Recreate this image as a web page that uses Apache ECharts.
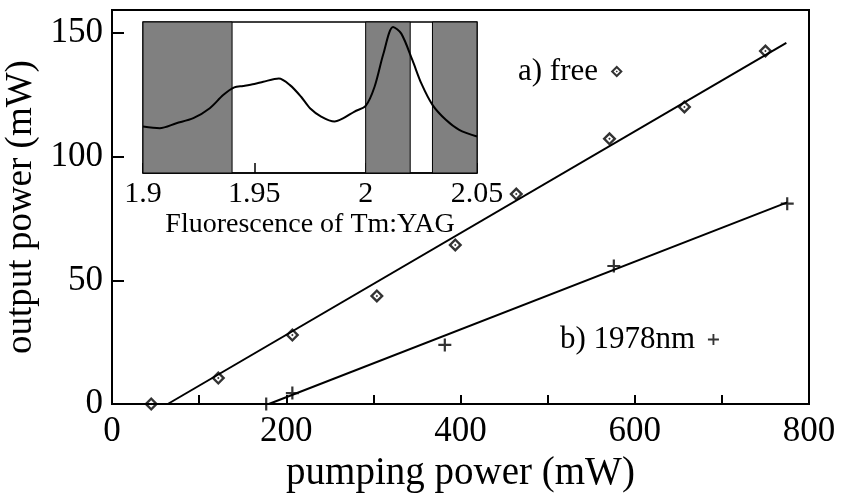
<!DOCTYPE html>
<html>
<head>
<meta charset="utf-8">
<script src="https://cdn.jsdelivr.net/npm/echarts@6/dist/echarts.min.js"></script>
<style>
  html, body { margin: 0; background: #fff; }
  #chart { width: 842px; height: 501px; }
</style>
</head>
<body>
<div id="chart"></div>
<script>
// main plot: output power vs pumping power
var pumpFree = [45, 122, 207, 304, 394, 464, 571, 657, 750];
var outFree = [0, 10.5, 27.9, 43.7, 64.3, 84.9, 107.2, 120.1, 142.7];
var pump1978 = [177, 207, 382, 576, 775];
var out1978 = [0, 4.4, 23.9, 55.8, 81];
// linear fits (start, end)
var fitFree = [[64, 0], [774, 146]];
var fit1978 = [[180, 0], [775, 81.5]];
var xLabels = [0, 200, 400, 600, 800];
var yLabels = [0, 50, 100, 150];

// inset: fluorescence spectrum of Tm:YAG
var wavelength = [1.900, 1.9075, 1.915, 1.9226, 1.930, 1.936, 1.941, 1.945, 1.950, 1.954,
  1.961, 1.966, 1.971, 1.975, 1.980, 1.986, 1.990, 1.995, 2.000, 2.004,
  2.008, 2.0123, 2.016, 2.021, 2.025, 2.030, 2.036, 2.042, 2.050];
var fluor = [0.308, 0.297, 0.330, 0.363, 0.429, 0.516, 0.567, 0.576, 0.589, 0.604,
  0.626, 0.582, 0.505, 0.429, 0.374, 0.341, 0.363, 0.407, 0.444, 0.571,
  0.791, 0.967, 0.923, 0.747, 0.593, 0.451, 0.352, 0.286, 0.242];
var insetLabels = [1.9, 1.95, 2, 2.05];
var bands = [[1.9, 1.94], [2.0, 2.02], [2.03, 2.05]];

var font = 'Liberation Serif';
var diamondPath = 'path://M0,-5L5,0L0,5L-5,0Z M0,-2.6L-2.6,0L0,2.6L2.6,0Z M0,-0.9L0.9,0L0,0.9L-0.9,0Z';
var plusPath = 'path://M-5,-0.85L5,-0.85L5,0.85L-5,0.85Z M-0.85,-5L0.85,-5L0.85,5L-0.85,5Z';

function zip(a, b) {
  return a.map(function (v, i) { return [v, b[i]]; });
}

var chart = echarts.init(document.getElementById('chart'));
var option = {
  backgroundColor: '#fff',
  animation: false,
  legend: [{
    data: [{ name: 'a) free', icon: diamondPath }],
    left: 513, top: 51, align: 'right',
    itemWidth: 12, itemHeight: 12,
    formatter: function (n) { return n + ' '; },
    textStyle: { fontFamily: font, fontSize: 31, color: '#000' }
  }, {
    data: [{ name: 'b) 1978nm', icon: plusPath }],
    left: 555, top: 319, align: 'right',
    itemWidth: 11, itemHeight: 11,
    formatter: function (n) { return n + ' '; },
    textStyle: { fontFamily: font, fontSize: 31, color: '#000' }
  }],
  grid: [{
    left: 112, right: 33, top: 10, bottom: 97,
    outerBoundsMode: 'none', containLabel: false,
    show: true, borderColor: '#000', borderWidth: 2
  }, {
    left: 143, width: 334, top: 22, height: 151,
    outerBoundsMode: 'none', containLabel: false,
    show: true, borderColor: '#000', borderWidth: 1.5, backgroundColor: '#fff'
  }],
  xAxis: [{
    type: 'value', gridIndex: 0, min: 0, max: 800, interval: 100,
    name: 'pumping power (mW)', nameLocation: 'middle', nameGap: 48,
    nameTextStyle: { fontFamily: font, fontSize: 39, color: '#000' },
    axisLine: { lineStyle: { color: '#000', width: 2 } },
    axisTick: { inside: true, length: 9, lineStyle: { color: '#000', width: 2 } },
    axisLabel: { customValues: xLabels, margin: 10, fontFamily: font, fontSize: 35, color: '#000' },
    splitLine: { show: false }
  }, {
    type: 'value', gridIndex: 1, min: 1.9, max: 2.05, interval: 0.05,
    name: 'Fluorescence of Tm:YAG', nameLocation: 'middle', nameGap: 38,
    nameTextStyle: { fontFamily: font, fontSize: 28, color: '#000' },
    axisLine: { lineStyle: { color: '#000', width: 1.5 } },
    axisTick: { inside: true, length: 10, lineStyle: { color: '#000', width: 1.5 } },
    axisLabel: { customValues: insetLabels, margin: 6, fontFamily: font, fontSize: 30, color: '#000' },
    splitLine: { show: false }
  }],
  yAxis: [{
    type: 'value', gridIndex: 0, min: 0, max: 159.3, interval: 50,
    name: 'output power (mW)', nameLocation: 'middle', nameGap: 66,
    nameTextStyle: { fontFamily: font, fontSize: 37, color: '#000' },
    axisLine: { lineStyle: { color: '#000', width: 2 } },
    axisTick: { inside: true, length: 12, customValues: yLabels, lineStyle: { color: '#000', width: 2 } },
    axisLabel: { customValues: yLabels, margin: 9, fontFamily: font, fontSize: 35, color: '#000' },
    splitLine: { show: false }
  }, {
    type: 'value', gridIndex: 1, min: 0, max: 1,
    axisLine: { show: false }, axisTick: { show: false },
    axisLabel: { show: false }, splitLine: { show: false }
  }],
  series: [{
    name: 'fit free', type: 'line', xAxisIndex: 0, yAxisIndex: 0,
    data: fitFree, showSymbol: false, silent: true,
    lineStyle: { color: '#000', width: 2 }
  }, {
    name: 'fit 1978', type: 'line', xAxisIndex: 0, yAxisIndex: 0,
    data: fit1978, showSymbol: false, silent: true,
    lineStyle: { color: '#000', width: 2 }
  }, {
    name: 'a) free', type: 'scatter', xAxisIndex: 0, yAxisIndex: 0,
    data: zip(pumpFree, outFree), symbol: diamondPath, symbolSize: 14,
    itemStyle: { color: '#000' }, z: 5
  }, {
    name: 'b) 1978nm', type: 'scatter', xAxisIndex: 0, yAxisIndex: 0,
    data: zip(pump1978, out1978), symbol: plusPath, symbolSize: 13,
    itemStyle: { color: '#000' }, z: 5
  }, {
    name: 'fluorescence', type: 'line', xAxisIndex: 1, yAxisIndex: 1,
    data: zip(wavelength, fluor), smooth: 0.3, showSymbol: false, silent: true,
    lineStyle: { color: '#000', width: 2 },
    markArea: {
      silent: true,
      itemStyle: { color: '#808080', borderColor: '#000', borderWidth: 1 },
      data: bands.map(function (b) { return [{ xAxis: b[0] }, { xAxis: b[1] }]; })
    }
  }]
};
chart.setOption(option);
</script>
</body>
</html>
